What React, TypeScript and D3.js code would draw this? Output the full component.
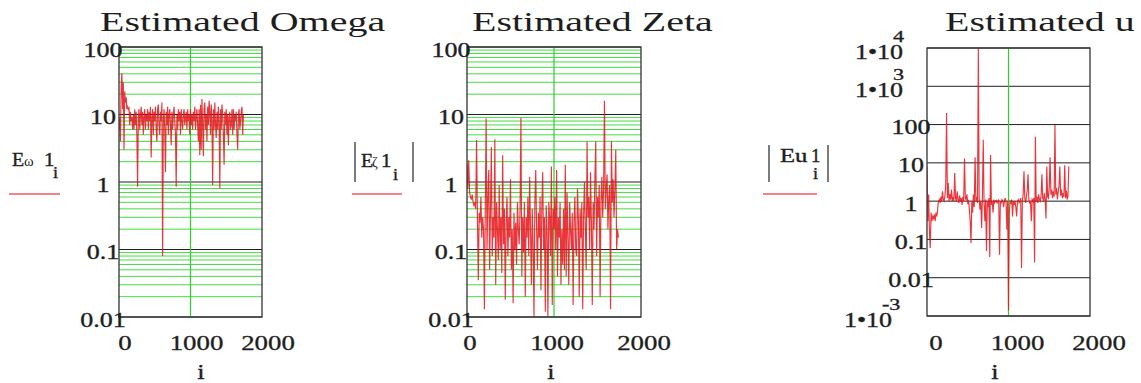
import React from 'react';
import * as d3 from 'd3';

// spacing of the sample index i between consecutive stored values
const SAMPLE_STEP = 10;

// Estimated omega, one value per SAMPLE_STEP samples
const omegaValues = [
  6, 9, 4, 25, 41, 12, 30, 3, 22, 15, 18, 12, 13, 12, 12.5, 7, 11, 8, 9, 6,
  10, 6, 12, 7, 11, 5, 0.85, 9, 12, 6, 10, 13, 7, 11, 5, 9, 12, 6, 10, 8,
  12, 6, 11, 8, 13, 2.3, 9, 12, 5, 11, 8, 13, 6, 4, 12, 14, 7, 5, 11, 8,
  15, 0.08, 8, 12, 6, 1.4, 11, 7, 13, 5, 10, 12, 7, 3.5, 11, 6, 10, 13, 8, 5,
  0.85, 10, 6, 12, 8, 11, 5, 12, 8, 6, 10, 12, 7, 9, 11, 6, 12, 8, 10, 5,
  12, 7, 10, 6, 11, 8, 13, 6, 9, 12, 7, 4, 12, 2.5, 14, 3, 17, 7, 2.4, 12,
  15, 6, 10, 4, 13, 7, 16, 11, 5, 14, 8, 0.9, 12, 6, 15, 7, 4.5, 11, 6, 13,
  8, 0.8, 12, 6, 14, 10, 5, 1.8, 11, 7, 12, 5, 10, 3.5, 9, 11, 6, 7, 12, 5,
  12, 6, 10, 8, 11, 5, 3, 10, 12, 6, 8, 11, 13, 5, 10,
];

// |Estimated zeta|
const zetaValues = [
  1.9, 0.8, 2.1, 0.7, 0.6, 0.55, 0.65, 0.5, 0.45, 0.5, 0.4, 4.2, 0.3, 0.035, 0.35, 0.25, 0.6, 0.15, 0.3, 0.2,
  0.013, 0.4, 8.7, 0.1, 0.6, 1.5, 0.05, 0.4, 3.3, 0.08, 0.3, 0.15, 4.3, 0.03, 0.5, 0.2, 0.07, 0.9, 0.1, 0.3,
  0.045, 2.5, 0.12, 0.4, 0.018, 0.25, 0.6, 0.08, 0.3, 0.15, 1.1, 0.05, 0.2, 0.016, 0.35, 0.1, 0.25, 0.06, 0.5, 0.2,
  0.12, 0.4, 8.9, 0.04, 0.3, 0.09, 0.5, 0.02, 0.3, 0.15, 0.6, 0.08, 1.2, 0.2, 0.03, 0.4, 0.12, 0.01, 0.5, 1.5,
  0.2, 0.05, 0.35, 0.15, 0.6, 0.025, 0.4, 1.4, 0.1, 0.3, 0.012, 0.45, 0.2, 0.01, 0.5, 0.3, 0.08, 1.7, 0.015, 0.4,
  0.2, 0.6, 0.1, 1.5, 0.04, 0.3, 0.15, 0.5, 0.03, 0.2, 0.06, 0.4, 0.05, 1.8, 0.04, 0.7, 0.15, 0.03, 0.5, 0.2,
  0.1, 0.35, 0.015, 0.25, 0.6, 0.1, 0.08, 0.8, 0.3, 0.02, 0.4, 0.15, 0.5, 0.013, 0.3, 1.0, 0.2, 0.05, 4, 0.3,
  0.6, 0.1, 1.4, 0.25, 0.015, 0.5, 0.2, 1.1, 4, 0.08, 0.6, 0.3, 0.9, 0.02, 0.5, 1.2, 0.3, 0.8, 16, 0.4,
  0.8, 1.3, 0.2, 0.6, 0.9, 0.013, 4, 0.5, 1.1, 0.3, 0.8, 3, 0.1, 0.2, 0.15,
];

// |Estimated u|
const uValues = [
  8, 0.3, 1.5, 0.15, 0.06, 0.5, 0.3, 0.4, 0.35, 0.45, 0.3, 0.5, 0.4, 0.6, 1, 1.1, 0.9, 1.3, 1, 1.8,
  1.1, 1, 1.4, 2.5, 200, 1.2, 3, 1, 1.5, 1.1, 2, 1, 1.3, 1, 5.4, 1.2, 1, 1.8, 1.1, 0.9,
  1.4, 1, 1.2, 0.8, 1.3, 1, 13, 1.2, 1.1, 1.5, 0.9, 1, 0.6, 0.3, 0.08, 1, 0.5, 1.5, 0.7, 14,
  1, 1.3, 0.9, 10000, 1.2, 0.6, 1, 0.2, 1.4, 40, 0.9, 0.3, 1.1, 0.05, 1, 0.7, 1.2, 0.035, 16, 0.8,
  1, 0.5, 1.1, 0.9, 1, 1.05, 0.9, 1, 1.1, 0.04, 1, 0.9, 1.1, 1, 0.7, 1, 1.2, 0.95, 0.18, 1,
  0.0014, 0.5, 1, 0.9, 1.1, 0.4, 1, 0.8, 1, 0.7, 0.4, 1, 1.1, 0.9, 1, 1.2, 0.018, 1, 1.5, 6,
  1.2, 0.9, 1.3, 2, 5, 1.1, 0.9, 1, 0.3, 1.1, 1, 1.2, 0.025, 48, 1, 1.3, 0.9, 1.5, 1.1, 1,
  1.4, 5, 1.2, 1, 1.6, 1.1, 0.35, 8, 1.3, 1.2, 2.5, 14, 1.5, 2, 1.2, 1.8, 1.3, 98, 1.5, 2.2,
  1.1, 1.8, 2.5, 8, 1.4, 2, 1.2, 1.6, 1.3, 8.6, 1.2, 1.9, 1.1, 1.4, 8,
];

const xTickValues = [0, 1000, 2000];
const omegaYTicks = [0.01, 0.1, 1, 10, 100];
const zetaYTicks = [0.01, 0.1, 1, 10, 100];
const uYTicks = [1e-3, 0.01, 0.1, 1, 10, 100, 1e3, 1e4];
const titles = ['Estimated Omega', 'Estimated Zeta', 'Estimated u'];
const xAxisName = 'i';

const FONT = '"Liberation Serif", "Times New Roman", Times, serif';
const TRACE = '#e8121a';
const GREEN = '#45dc45';
const INK = '#1e1e1e';

type Layout = {
  left: number; right: number; top: number; bottom: number;
  titleX: number; minor: boolean; xLabelShift: number; iX: number;
};

const layouts: Layout[] = [
  { left: 119, right: 262, top: 47, bottom: 317, titleX: 100, minor: true, xLabelShift: 6, iX: 201 },
  { left: 467, right: 641, top: 47, bottom: 317, titleX: 472, minor: true, xLabelShift: 3, iX: 551 },
  { left: 927, right: 1090, top: 48, bottom: 316, titleX: 945, minor: false, xLabelShift: 9, iX: 995 },
];

const series = [
  { values: omegaValues, ticks: omegaYTicks },
  { values: zetaValues, ticks: zetaYTicks },
  { values: uValues, ticks: uYTicks },
];

// text drawn with a horizontal stretch, anchored at (x, y)
function SText(props: {
  x: number; y: number; sx?: number; size: number; anchor?: string;
  children: React.ReactNode; fill?: string; heavy?: boolean;
}) {
  const { x, y, sx = 1.3, size, anchor = 'start', children, fill = INK, heavy = false } = props;
  return (
    <text
      transform={`translate(${x},${y}) scale(${sx},1)`}
      textAnchor={anchor as any}
      fontSize={size}
      fontFamily={FONT}
      fill={fill}
      stroke={heavy ? fill : 'none'}
      strokeWidth={heavy ? 0.35 : 0}
    >
      {children}
    </text>
  );
}

function YTickLabel({ v, axisX, y }: { v: number; axisX: number; y: number }) {
  const exp = Math.round(Math.log10(v));
  if (exp >= 3 || exp <= -3) {
    const neg = exp < 0;
    const baseEnd = axisX - 24 - (neg ? 11 : 0);
    return (
      <g>
        <SText x={baseEnd} y={y + 11} size={20} anchor="end" heavy>1•10</SText>
        <SText x={baseEnd - 10} y={y + 11 - 17} size={17} heavy>{String(exp)}</SText>
      </g>
    );
  }
  const label = exp < 0 ? v.toFixed(-exp) : String(v);
  return <SText x={axisX - 16} y={y + 9.5} size={20} anchor="middle" heavy>{label}</SText>;
}

function Panel({ idx }: { idx: number }) {
  const L = layouts[idx];
  const { values, ticks } = series[idx];
  const x = d3.scaleLinear().domain([0, 2000]).range([L.left, L.right]);
  const y = d3
    .scaleLog()
    .domain([ticks[0], ticks[ticks.length - 1]])
    .range([L.bottom, L.top]);

  const minorTicks: number[] = [];
  if (L.minor) {
    for (let d = 0; d < ticks.length - 1; d++) {
      for (let m = 2; m <= 9; m++) minorTicks.push(ticks[d] * m);
    }
  }

  const line = d3
    .line<number>()
    .x((_, k) => x(k * SAMPLE_STEP))
    .y((v) => y(v));

  const clipId = `clip-${idx}`;

  return (
    <g>
      <defs>
        <clipPath id={clipId}>
          <rect x={L.left} y={L.top} width={L.right - L.left} height={L.bottom - L.top} />
        </clipPath>
      </defs>

      {/* title */}
      <SText x={L.titleX} y={31} size={27} sx={1.48}>{titles[idx]}</SText>

      {/* minor log grid */}
      {minorTicks.map((t) => (
        <line key={`m${t}`} x1={L.left} x2={L.right} y1={y(t)} y2={y(t)} stroke={GREEN} strokeWidth={1} />
      ))}
      {/* decade grid */}
      {ticks.map((t) => (
        <line key={`d${t}`} x1={L.left} x2={L.right} y1={y(t)} y2={y(t)} stroke={INK} strokeWidth={1} />
      ))}
      {/* vertical grid at i = 1000 */}
      <line x1={x(1000)} x2={x(1000)} y1={L.top} y2={L.bottom} stroke="#2ccf2c" strokeWidth={1.2} />

      {/* trace */}
      <path
        d={line(values) || ''}
        fill="none"
        stroke={TRACE}
        strokeWidth={1.15}
        strokeOpacity={0.85}
        clipPath={`url(#${clipId})`}
      />

      {/* frame */}
      <rect
        x={L.left}
        y={L.top}
        width={L.right - L.left}
        height={L.bottom - L.top}
        fill="none"
        stroke="#333"
        strokeWidth={1.3}
      />

      {/* y tick labels */}
      {ticks.map((t) => (
        <YTickLabel key={`yl${t}`} v={t} axisX={L.left} y={y(t)} />
      ))}

      {/* x tick labels */}
      {xTickValues.map((t) => (
        <SText key={`xl${t}`} x={x(t) + L.xLabelShift} y={350} size={22} sx={1.22} anchor="middle" heavy>
          {String(t)}
        </SText>
      ))}

      {/* x axis name */}
      <SText x={L.iX} y={379} size={22} sx={1.2} anchor="middle" heavy>{xAxisName}</SText>
    </g>
  );
}

function VarLabels() {
  const legendY = 194;
  return (
    <g fontFamily={FONT}>
      {/* Eω1 sub i */}
      <SText x={12} y={166} size={19} sx={1.05} heavy>E</SText>
      <SText x={24} y={166} size={14} sx={1.05}>ω</SText>
      <SText x={44} y={166} size={19} sx={1.1} heavy>1</SText>
      <SText x={53} y={178} size={16} sx={1.15} heavy>i</SText>
      <line x1={9} x2={60} y1={legendY} y2={legendY} stroke="#ef5a62" strokeWidth={1.3} />

      {/* |Eζ1 sub i| */}
      <line x1={355} x2={355} y1={142} y2={182} stroke="#444" strokeWidth={1.4} />
      <line x1={413} x2={413} y1={142} y2={182} stroke="#444" strokeWidth={1.4} />
      <SText x={361} y={167} size={19} sx={1.05} heavy>E</SText>
      <SText x={372} y={167} size={14} sx={1.0}>ζ</SText>
      <SText x={381} y={167} size={19} sx={1.1} heavy>1</SText>
      <SText x={393} y={180} size={16} sx={1.15} heavy>i</SText>
      <line x1={352} x2={402} y1={legendY} y2={legendY} stroke="#ef5a62" strokeWidth={1.3} />

      {/* |Eu1 sub i| */}
      <line x1={769} x2={769} y1={145} y2={182} stroke="#444" strokeWidth={1.4} />
      <line x1={828} x2={828} y1={145} y2={182} stroke="#444" strokeWidth={1.4} />
      <SText x={780} y={162} size={19} sx={1.3} heavy>Eu</SText>
      <SText x={811} y={162} size={18} sx={1.05} heavy>1</SText>
      <SText x={813} y={179} size={16} sx={1.15} heavy>i</SText>
      <line x1={763} x2={817} y1={legendY} y2={legendY} stroke="#ef5a62" strokeWidth={1.3} />
    </g>
  );
}

export default function App() {
  return (
    <svg
      width={1141}
      height={383}
      viewBox="0 0 1141 383"
      style={{ position: 'absolute', left: 0, top: 0, display: 'block', background: '#fff' }}
    >
      <rect x={0} y={0} width={1141} height={383} fill="#fff" />
      {layouts.map((_, i) => (
        <Panel key={i} idx={i} />
      ))}
      <VarLabels />
    </svg>
  );
}
